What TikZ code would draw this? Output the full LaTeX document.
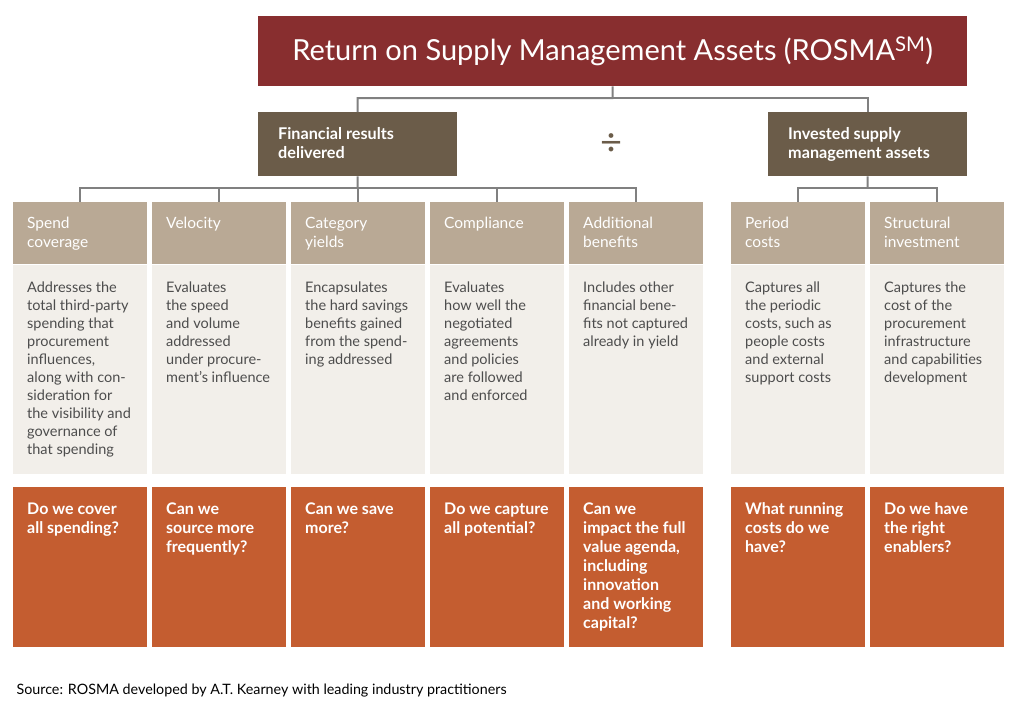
\documentclass[tikz,border=0pt]{standalone}
\usepackage{fontspec}
\setmainfont{Lato}
\usepackage{xcolor}
\usetikzlibrary{positioning}
\definecolor{rosmared}{HTML}{882E2F}
\definecolor{midbrown}{HTML}{6B5C49}
\definecolor{headtan}{HTML}{B9A995}
\definecolor{descbg}{HTML}{F2EFEA}
\definecolor{qorange}{HTML}{C45D30}
\definecolor{linegray}{HTML}{808080}
\definecolor{desctext}{HTML}{4D4D4D}
% top aligned text inside a box of fixed height
\newcommand{\topbox}[3]{\parbox[t][#1][t]{#2}{\begin{tabular}[t]{@{}l@{}}#3\end{tabular}}}

\begin{document}
\begin{tikzpicture}[x=1pt,y=-1pt,node distance=0pt]
\tikzstyle{title}=[rectangle,fill=rosmared,text=white,minimum width=709pt,minimum height=70pt,font=\fontsize{29}{34}\selectfont]
\tikzstyle{group}=[rectangle,fill=midbrown,text=white,inner xsep=20pt,inner ysep=13.7pt,minimum width=199pt,minimum height=64pt,font=\fontsize{16.2}{19}\selectfont\bfseries]
\tikzstyle{head}=[rectangle,fill=headtan,text=white,inner xsep=14pt,inner ysep=12.7pt,minimum width=134pt,minimum height=62pt,font=\fontsize{15.5}{19}\selectfont]
\tikzstyle{desc}=[rectangle,fill=descbg,text=desctext,inner xsep=14pt,inner ysep=15.4pt,minimum width=134pt,minimum height=209pt,font=\fontsize{14.5}{18}\selectfont]
\tikzstyle{quest}=[rectangle,fill=qorange,text=white,inner xsep=14pt,inner ysep=13.7pt,minimum width=134pt,minimum height=160pt,font=\fontsize{16}{19}\selectfont\bfseries]
\tikzstyle{conn}=[draw=linegray,line width=2pt]
\useasboundingbox (0,0) rectangle (1020,707);

\node[title,anchor=north west] (rosma) at (258,16) {Return on Supply Management Assets (ROSMA\textsuperscript{SM})};

\node[group,anchor=north west] (fin) at (258,112) {\topbox{36.6pt}{159pt}{Financial results\\delivered}};
\node[group,anchor=north west] (inv) at (768,112) {\topbox{36.6pt}{159pt}{Invested supply\\management assets}};
\node[text=midbrown,font=\fontsize{38}{38}\selectfont] (div) at (612,145) {÷};

% financial results columns
\node[head,anchor=north west] (spend) at (13,202) {\topbox{36.6pt}{106pt}{Spend\\coverage}};
\node[desc,below=of spend] (spendd) {\topbox{178.2pt}{106pt}{Addresses the\\total third-party\\spending that\\procurement\\influences,\\along with con-\\sideration for\\the visibility and\\governance of\\that spending}};
\node[quest,below=13pt of spendd] (spendq) {\topbox{132.6pt}{106pt}{Do we cover\\all spending?}};

\node[head,anchor=north west] (velo) at (152,202) {\topbox{36.6pt}{106pt}{Velocity}};
\node[desc,below=of velo] (velod) {\topbox{178.2pt}{106pt}{Evaluates\\the speed\\and volume\\addressed\\under procure-\\ment’s influence}};
\node[quest,below=13pt of velod] (veloq) {\topbox{132.6pt}{106pt}{Can we\\source more\\frequently?}};

\node[head,anchor=north west] (yield) at (291,202) {\topbox{36.6pt}{106pt}{Category\\yields}};
\node[desc,below=of yield] (yieldd) {\topbox{178.2pt}{106pt}{Encapsulates\\the hard savings\\benefits gained\\from the spend-\\ing addressed}};
\node[quest,below=13pt of yieldd] (yieldq) {\topbox{132.6pt}{106pt}{Can we save\\more?}};

\node[head,anchor=north west] (compl) at (430,202) {\topbox{36.6pt}{106pt}{Compliance}};
\node[desc,below=of compl] (compld) {\topbox{178.2pt}{106pt}{Evaluates\\how well the\\negotiated\\agreements\\and policies\\are followed\\and enforced}};
\node[quest,below=13pt of compld] (complq) {\topbox{132.6pt}{106pt}{Do we capture\\all potential?}};

\node[head,anchor=north west] (addit) at (569,202) {\topbox{36.6pt}{106pt}{Additional\\benefits}};
\node[desc,below=of addit] (additd) {\topbox{178.2pt}{106pt}{Includes other\\financial bene-\\fits not captured\\already in yield}};
\node[quest,below=13pt of additd] (additq) {\topbox{132.6pt}{106pt}{Can we\\impact the full\\value agenda,\\including\\innovation\\and working\\capital?}};

% invested assets columns
\node[head,anchor=north west] (period) at (731,202) {\topbox{36.6pt}{106pt}{Period\\costs}};
\node[desc,below=of period] (periodd) {\topbox{178.2pt}{106pt}{Captures all\\the periodic\\costs, such as\\people costs\\and external\\support costs}};
\node[quest,below=13pt of periodd] (periodq) {\topbox{132.6pt}{106pt}{What running\\costs do we\\have?}};

\node[head,anchor=north west] (struct) at (870,202) {\topbox{36.6pt}{106pt}{Structural\\investment}};
\node[desc,below=of struct] (structd) {\topbox{178.2pt}{106pt}{Captures the\\cost of the\\procurement\\infrastructure\\and capabilities\\development}};
\node[quest,below=13pt of structd] (structq) {\topbox{132.6pt}{106pt}{Do we have\\the right\\enablers?}};

\node[anchor=base west,font=\fontsize{14.3}{16}\selectfont] (src) at (13,694) {Source: ROSMA developed by A.T. Kearney with leading industry practitioners};

% tree lines
\coordinate (topj) at (612.5,98);
\coordinate (finj) at (357.5,188);
\coordinate (invj) at (867.5,188);
\draw[conn] (rosma.south) -- (topj) -| (fin.north);
\draw[conn] (topj) -| (inv.north);
\draw[conn] (fin.south) -- (finj);
\foreach \col in {spend,velo,yield,compl,addit}
  \draw[conn] (finj) -| (\col.north);
\draw[conn] (inv.south) -- (invj);
\foreach \col in {period,struct}
  \draw[conn] (invj) -| (\col.north);
\end{tikzpicture}
\end{document}
